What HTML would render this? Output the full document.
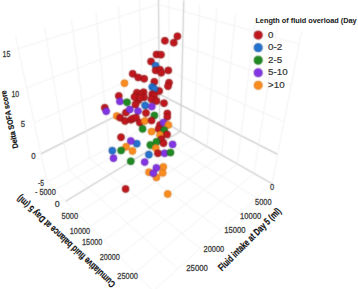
<!DOCTYPE html>
<html><head><meta charset="utf-8"><style>
html,body{margin:0;padding:0;background:#fff;}
svg{display:block;font-family:"Liberation Sans",sans-serif;}
</style></head><body>
<svg width="358" height="289" viewBox="0 0 358 289">
<defs><filter id="sf" color-interpolation-filters="sRGB" x="0" y="0" width="358" height="289" filterUnits="userSpaceOnUse"><feConvolveMatrix order="3" kernelMatrix="1 4 1 4 16 4 1 4 1" divisor="36" edgeMode="duplicate"/></filter></defs>
<g filter="url(#sf)">
<rect width="358" height="289" fill="#fff"/>
<line x1="159.6" y1="119.4" x2="47.0" y2="182.1" stroke="#efefef" stroke-width="0.8"/>
<line x1="159.4" y1="94.1" x2="40.9" y2="153.9" stroke="#cdcdcd" stroke-width="1.2"/>
<line x1="159.1" y1="66.8" x2="34.2" y2="122.7" stroke="#efefef" stroke-width="0.8"/>
<line x1="158.8" y1="36.9" x2="26.7" y2="87.8" stroke="#efefef" stroke-width="0.8"/>
<line x1="158.5" y1="4.3" x2="18.3" y2="48.7" stroke="#efefef" stroke-width="0.8"/>
<line x1="159.6" y1="119.4" x2="158.4" y2="-6.1" stroke="#cdcdcd" stroke-width="1.2"/>
<line x1="143.8" y1="128.1" x2="139.3" y2="-0.5" stroke="#efefef" stroke-width="0.8"/>
<line x1="127.0" y1="137.5" x2="118.5" y2="5.7" stroke="#efefef" stroke-width="0.8"/>
<line x1="109.0" y1="147.6" x2="96.0" y2="12.3" stroke="#efefef" stroke-width="0.8"/>
<line x1="89.7" y1="158.3" x2="71.4" y2="19.6" stroke="#efefef" stroke-width="0.8"/>
<line x1="68.9" y1="169.9" x2="44.5" y2="27.5" stroke="#efefef" stroke-width="0.8"/>
<line x1="47.0" y1="182.1" x2="15.6" y2="36.1" stroke="#efefef" stroke-width="0.8"/>
<line x1="159.6" y1="119.4" x2="272.0" y2="183.7" stroke="#efefef" stroke-width="0.8"/>
<line x1="159.4" y1="94.1" x2="277.7" y2="154.4" stroke="#cdcdcd" stroke-width="1.2"/>
<line x1="159.1" y1="66.8" x2="284.0" y2="121.8" stroke="#efefef" stroke-width="0.8"/>
<line x1="158.8" y1="36.9" x2="291.1" y2="85.3" stroke="#efefef" stroke-width="0.8"/>
<line x1="158.5" y1="4.3" x2="299.2" y2="44.1" stroke="#efefef" stroke-width="0.8"/>
<line x1="168.3" y1="124.4" x2="169.0" y2="-3.4" stroke="#efefef" stroke-width="0.8"/>
<line x1="180.5" y1="131.3" x2="183.8" y2="0.4" stroke="#cdcdcd" stroke-width="1.2"/>
<line x1="193.4" y1="138.7" x2="199.7" y2="4.5" stroke="#efefef" stroke-width="0.8"/>
<line x1="207.1" y1="146.6" x2="216.9" y2="8.9" stroke="#efefef" stroke-width="0.8"/>
<line x1="221.7" y1="154.9" x2="235.5" y2="13.7" stroke="#efefef" stroke-width="0.8"/>
<line x1="237.3" y1="163.9" x2="255.7" y2="18.9" stroke="#efefef" stroke-width="0.8"/>
<line x1="254.0" y1="173.5" x2="277.7" y2="24.5" stroke="#efefef" stroke-width="0.8"/>
<line x1="272.0" y1="183.7" x2="301.8" y2="30.7" stroke="#efefef" stroke-width="0.8"/>
<line x1="159.6" y1="119.4" x2="272.0" y2="183.7" stroke="#cdcdcd" stroke-width="1.2"/>
<line x1="143.8" y1="128.1" x2="256.4" y2="197.9" stroke="#efefef" stroke-width="0.8"/>
<line x1="127.0" y1="137.5" x2="239.3" y2="213.3" stroke="#efefef" stroke-width="0.8"/>
<line x1="109.0" y1="147.6" x2="220.7" y2="230.1" stroke="#efefef" stroke-width="0.8"/>
<line x1="89.7" y1="158.3" x2="200.3" y2="248.5" stroke="#efefef" stroke-width="0.8"/>
<line x1="68.9" y1="169.9" x2="177.8" y2="268.9" stroke="#efefef" stroke-width="0.8"/>
<line x1="47.0" y1="182.1" x2="153.4" y2="290.9" stroke="#efefef" stroke-width="0.8"/>
<line x1="168.3" y1="124.4" x2="54.8" y2="190.1" stroke="#efefef" stroke-width="0.8"/>
<line x1="180.5" y1="131.3" x2="65.7" y2="201.2" stroke="#cdcdcd" stroke-width="1.2"/>
<line x1="193.4" y1="138.7" x2="77.5" y2="213.3" stroke="#efefef" stroke-width="0.8"/>
<line x1="207.1" y1="146.6" x2="90.2" y2="226.3" stroke="#efefef" stroke-width="0.8"/>
<line x1="221.7" y1="154.9" x2="104.0" y2="240.4" stroke="#efefef" stroke-width="0.8"/>
<line x1="237.3" y1="163.9" x2="119.0" y2="255.7" stroke="#efefef" stroke-width="0.8"/>
<line x1="254.0" y1="173.5" x2="135.4" y2="272.5" stroke="#efefef" stroke-width="0.8"/>
<line x1="272.0" y1="183.7" x2="153.4" y2="290.9" stroke="#efefef" stroke-width="0.8"/>
<circle cx="164.9" cy="40.8" r="3.45" fill="#c2161e" stroke="#8c1414" stroke-width="0.8"/>
<circle cx="173.8" cy="42.7" r="3.45" fill="#c2161e" stroke="#8c1414" stroke-width="0.8"/>
<circle cx="177.4" cy="36.3" r="3.45" fill="#c2161e" stroke="#8c1414" stroke-width="0.8"/>
<circle cx="156.5" cy="54.5" r="3.45" fill="#c2161e" stroke="#8c1414" stroke-width="0.8"/>
<circle cx="161" cy="54.7" r="3.45" fill="#c2161e" stroke="#8c1414" stroke-width="0.8"/>
<circle cx="151" cy="61.5" r="3.45" fill="#c2161e" stroke="#8c1414" stroke-width="0.8"/>
<circle cx="155.6" cy="65.8" r="3.45" fill="#2372cf" stroke="#1a55a0" stroke-width="0.8"/>
<circle cx="155.7" cy="70.4" r="3.45" fill="#c2161e" stroke="#8c1414" stroke-width="0.8"/>
<circle cx="160" cy="69.7" r="3.45" fill="#c2161e" stroke="#8c1414" stroke-width="0.8"/>
<circle cx="161.2" cy="72.8" r="3.45" fill="#c2161e" stroke="#8c1414" stroke-width="0.8"/>
<circle cx="168.3" cy="70.4" r="3.45" fill="#c2161e" stroke="#8c1414" stroke-width="0.8"/>
<circle cx="132.7" cy="73.8" r="3.45" fill="#c2161e" stroke="#8c1414" stroke-width="0.8"/>
<circle cx="138.2" cy="77.5" r="3.45" fill="#c2161e" stroke="#8c1414" stroke-width="0.8"/>
<circle cx="144.2" cy="78.8" r="3.45" fill="#c2161e" stroke="#8c1414" stroke-width="0.8"/>
<circle cx="124.5" cy="83.2" r="3.45" fill="#fb8c1e" stroke="#d87414" stroke-width="0.8"/>
<circle cx="154.3" cy="81.8" r="3.45" fill="#c2161e" stroke="#8c1414" stroke-width="0.8"/>
<circle cx="169" cy="82.7" r="3.45" fill="#c2161e" stroke="#8c1414" stroke-width="0.8"/>
<circle cx="168" cy="86.2" r="3.45" fill="#c2161e" stroke="#8c1414" stroke-width="0.8"/>
<circle cx="152.2" cy="87" r="3.45" fill="#2372cf" stroke="#1a55a0" stroke-width="0.8"/>
<circle cx="159.2" cy="91" r="3.45" fill="#c2161e" stroke="#8c1414" stroke-width="0.8"/>
<circle cx="154.3" cy="88.8" r="3.45" fill="#2372cf" stroke="#1a55a0" stroke-width="0.8"/>
<circle cx="136.9" cy="92.7" r="3.45" fill="#c2161e" stroke="#8c1414" stroke-width="0.8"/>
<circle cx="143.6" cy="92.2" r="3.45" fill="#c2161e" stroke="#8c1414" stroke-width="0.8"/>
<circle cx="152.2" cy="94.2" r="3.45" fill="#c2161e" stroke="#8c1414" stroke-width="0.8"/>
<circle cx="141" cy="94.2" r="3.45" fill="#c2161e" stroke="#8c1414" stroke-width="0.8"/>
<circle cx="135.2" cy="96.7" r="3.45" fill="#c2161e" stroke="#8c1414" stroke-width="0.8"/>
<circle cx="144.0" cy="97.2" r="3.45" fill="#c2161e" stroke="#8c1414" stroke-width="0.8"/>
<circle cx="138.5" cy="100" r="3.45" fill="#c2161e" stroke="#8c1414" stroke-width="0.8"/>
<circle cx="154.0" cy="95.5" r="3.45" fill="#c2161e" stroke="#8c1414" stroke-width="0.8"/>
<circle cx="134.5" cy="97" r="3.45" fill="#c2161e" stroke="#8c1414" stroke-width="0.8"/>
<circle cx="140.2" cy="97.7" r="3.45" fill="#c2161e" stroke="#8c1414" stroke-width="0.8"/>
<circle cx="151.5" cy="99.2" r="3.45" fill="#c2161e" stroke="#8c1414" stroke-width="0.8"/>
<circle cx="156.4" cy="101" r="3.45" fill="#c2161e" stroke="#8c1414" stroke-width="0.8"/>
<circle cx="164" cy="103.2" r="3.45" fill="#c2161e" stroke="#8c1414" stroke-width="0.8"/>
<circle cx="118.8" cy="95.9" r="3.45" fill="#c2161e" stroke="#8c1414" stroke-width="0.8"/>
<circle cx="119.9" cy="101.4" r="3.45" fill="#8334e4" stroke="#6526b4" stroke-width="0.8"/>
<circle cx="127" cy="102.3" r="3.45" fill="#1f8a22" stroke="#176a19" stroke-width="0.8"/>
<circle cx="135.5" cy="104.5" r="3.45" fill="#c2161e" stroke="#8c1414" stroke-width="0.8"/>
<circle cx="145.1" cy="105.5" r="3.45" fill="#2372cf" stroke="#1a55a0" stroke-width="0.8"/>
<circle cx="151.8" cy="106.6" r="3.45" fill="#8334e4" stroke="#6526b4" stroke-width="0.8"/>
<circle cx="104.8" cy="107.8" r="3.45" fill="#c2161e" stroke="#8c1414" stroke-width="0.8"/>
<circle cx="106.2" cy="111.2" r="3.45" fill="#8334e4" stroke="#6526b4" stroke-width="0.8"/>
<circle cx="138" cy="111.1" r="3.45" fill="#8334e4" stroke="#6526b4" stroke-width="0.8"/>
<circle cx="146" cy="113" r="3.45" fill="#c2161e" stroke="#8c1414" stroke-width="0.8"/>
<circle cx="154.4" cy="115.5" r="3.45" fill="#1f8a22" stroke="#176a19" stroke-width="0.8"/>
<circle cx="167.3" cy="113.5" r="3.45" fill="#c2161e" stroke="#8c1414" stroke-width="0.8"/>
<circle cx="167.3" cy="116.8" r="3.45" fill="#c2161e" stroke="#8c1414" stroke-width="0.8"/>
<circle cx="126" cy="112.6" r="3.45" fill="#c2161e" stroke="#8c1414" stroke-width="0.8"/>
<circle cx="129.8" cy="109.5" r="3.45" fill="#8334e4" stroke="#6526b4" stroke-width="0.8"/>
<circle cx="116.8" cy="116" r="3.45" fill="#fb8c1e" stroke="#d87414" stroke-width="0.8"/>
<circle cx="120.1" cy="117.7" r="3.45" fill="#c2161e" stroke="#8c1414" stroke-width="0.8"/>
<circle cx="125.1" cy="121" r="3.45" fill="#c2161e" stroke="#8c1414" stroke-width="0.8"/>
<circle cx="131" cy="119.8" r="3.45" fill="#c2161e" stroke="#8c1414" stroke-width="0.8"/>
<circle cx="133" cy="118.4" r="3.45" fill="#c2161e" stroke="#8c1414" stroke-width="0.8"/>
<circle cx="136" cy="117.7" r="3.45" fill="#c2161e" stroke="#8c1414" stroke-width="0.8"/>
<circle cx="139.8" cy="122.6" r="3.45" fill="#c2161e" stroke="#8c1414" stroke-width="0.8"/>
<circle cx="144.8" cy="121" r="3.45" fill="#fb8c1e" stroke="#d87414" stroke-width="0.8"/>
<circle cx="151.6" cy="120.5" r="3.45" fill="#c2161e" stroke="#8c1414" stroke-width="0.8"/>
<circle cx="142.6" cy="128.9" r="3.45" fill="#1f8a22" stroke="#176a19" stroke-width="0.8"/>
<circle cx="160" cy="125" r="3.45" fill="#c2161e" stroke="#8c1414" stroke-width="0.8"/>
<circle cx="158.6" cy="128.9" r="3.45" fill="#c2161e" stroke="#8c1414" stroke-width="0.8"/>
<circle cx="163.5" cy="122.6" r="3.45" fill="#8334e4" stroke="#6526b4" stroke-width="0.8"/>
<circle cx="168.4" cy="125" r="3.45" fill="#fb8c1e" stroke="#d87414" stroke-width="0.8"/>
<circle cx="151.6" cy="131.6" r="3.45" fill="#fb8c1e" stroke="#d87414" stroke-width="0.8"/>
<circle cx="164.2" cy="130.3" r="3.45" fill="#1f8a22" stroke="#176a19" stroke-width="0.8"/>
<circle cx="160" cy="134.9" r="3.45" fill="#fb8c1e" stroke="#d87414" stroke-width="0.8"/>
<circle cx="167" cy="134.4" r="3.45" fill="#c2161e" stroke="#8c1414" stroke-width="0.8"/>
<circle cx="121" cy="137.2" r="3.45" fill="#c2161e" stroke="#8c1414" stroke-width="0.8"/>
<circle cx="161.4" cy="139.3" r="3.45" fill="#c2161e" stroke="#8c1414" stroke-width="0.8"/>
<circle cx="156.5" cy="141.8" r="3.45" fill="#1f8a22" stroke="#176a19" stroke-width="0.8"/>
<circle cx="150.3" cy="145" r="3.45" fill="#1f8a22" stroke="#176a19" stroke-width="0.8"/>
<circle cx="163.5" cy="143.2" r="3.45" fill="#c2161e" stroke="#8c1414" stroke-width="0.8"/>
<circle cx="172.6" cy="144.4" r="3.45" fill="#8334e4" stroke="#6526b4" stroke-width="0.8"/>
<circle cx="155.8" cy="148" r="3.45" fill="#fb8c1e" stroke="#d87414" stroke-width="0.8"/>
<circle cx="136.8" cy="143.7" r="3.45" fill="#2372cf" stroke="#1a55a0" stroke-width="0.8"/>
<circle cx="130.8" cy="141" r="3.45" fill="#8334e4" stroke="#6526b4" stroke-width="0.8"/>
<circle cx="126.1" cy="146.8" r="3.45" fill="#fb8c1e" stroke="#d87414" stroke-width="0.8"/>
<circle cx="132.5" cy="151" r="3.45" fill="#fb8c1e" stroke="#d87414" stroke-width="0.8"/>
<circle cx="121.1" cy="150.5" r="3.45" fill="#1f8a22" stroke="#176a19" stroke-width="0.8"/>
<circle cx="112.3" cy="150.7" r="3.45" fill="#2372cf" stroke="#1a55a0" stroke-width="0.8"/>
<circle cx="113.5" cy="158.2" r="3.45" fill="#8334e4" stroke="#6526b4" stroke-width="0.8"/>
<circle cx="130.8" cy="161.3" r="3.45" fill="#1f8a22" stroke="#176a19" stroke-width="0.8"/>
<circle cx="157.9" cy="153.3" r="3.45" fill="#c2161e" stroke="#8c1414" stroke-width="0.8"/>
<circle cx="164.6" cy="153.3" r="3.45" fill="#8334e4" stroke="#6526b4" stroke-width="0.8"/>
<circle cx="170.5" cy="152.6" r="3.45" fill="#1f8a22" stroke="#176a19" stroke-width="0.8"/>
<circle cx="148.9" cy="154.7" r="3.45" fill="#2372cf" stroke="#1a55a0" stroke-width="0.8"/>
<circle cx="144.7" cy="162.1" r="3.45" fill="#8334e4" stroke="#6526b4" stroke-width="0.8"/>
<circle cx="163.3" cy="167" r="3.45" fill="#fb8c1e" stroke="#d87414" stroke-width="0.8"/>
<circle cx="156.4" cy="167.9" r="3.45" fill="#8334e4" stroke="#6526b4" stroke-width="0.8"/>
<circle cx="149" cy="172.2" r="3.45" fill="#fb8c1e" stroke="#d87414" stroke-width="0.8"/>
<circle cx="162.7" cy="172.9" r="3.45" fill="#fb8c1e" stroke="#d87414" stroke-width="0.8"/>
<circle cx="156.4" cy="177.4" r="3.45" fill="#fb8c1e" stroke="#d87414" stroke-width="0.8"/>
<circle cx="153.3" cy="173.3" r="3.45" fill="#8334e4" stroke="#6526b4" stroke-width="0.8"/>
<circle cx="125.6" cy="189" r="3.45" fill="#c2161e" stroke="#8c1414" stroke-width="0.8"/>
<circle cx="167.7" cy="194" r="3.45" fill="#fb8c1e" stroke="#d87414" stroke-width="0.8"/>
<circle cx="258.2" cy="35.1" r="4.05" fill="#c2161e" stroke="#8c1414" stroke-width="0.8"/>
<circle cx="258.2" cy="47.650000000000006" r="4.05" fill="#2372cf" stroke="#1a55a0" stroke-width="0.8"/>
<circle cx="258.2" cy="60.2" r="4.05" fill="#1f8a22" stroke="#176a19" stroke-width="0.8"/>
<circle cx="258.2" cy="72.75" r="4.05" fill="#8334e4" stroke="#6526b4" stroke-width="0.8"/>
<circle cx="258.2" cy="85.30000000000001" r="4.05" fill="#fb8c1e" stroke="#d87414" stroke-width="0.8"/>
</g>
<text x="2.5" y="57.4" font-size="8.8" font-weight="normal" fill="#404040" text-anchor="start" textLength="7.8" lengthAdjust="spacingAndGlyphs" stroke="#444" stroke-width="0.3">15</text>
<text x="11.5" y="96.5" font-size="8.8" font-weight="normal" fill="#404040" text-anchor="start" textLength="7.7" lengthAdjust="spacingAndGlyphs" stroke="#444" stroke-width="0.3">10</text>
<text x="20.8" y="127.3" font-size="8.8" font-weight="normal" fill="#404040" text-anchor="start" textLength="4.3" lengthAdjust="spacingAndGlyphs" stroke="#444" stroke-width="0.3">5</text>
<text x="31.2" y="158.5" font-size="8.8" font-weight="normal" fill="#404040" text-anchor="start" textLength="4.4" lengthAdjust="spacingAndGlyphs" stroke="#444" stroke-width="0.3">0</text>
<text x="38.1" y="186.4" font-size="8.8" font-weight="normal" fill="#404040" text-anchor="start" textLength="5.9" lengthAdjust="spacingAndGlyphs" stroke="#444" stroke-width="0.3">-5</text>
<text x="34.9" y="195.3" font-size="8.8" font-weight="normal" fill="#404040" text-anchor="start" textLength="20.9" lengthAdjust="spacingAndGlyphs" stroke="#444" stroke-width="0.3">- 5000</text>
<text x="54.7" y="207.2" font-size="8.8" font-weight="normal" fill="#404040" text-anchor="start" textLength="4.9" lengthAdjust="spacingAndGlyphs" stroke="#444" stroke-width="0.3">0</text>
<text x="61.5" y="218.9" font-size="8.8" font-weight="normal" fill="#404040" text-anchor="start" textLength="16.6" lengthAdjust="spacingAndGlyphs" stroke="#444" stroke-width="0.3">5000</text>
<text x="69.8" y="233.6" font-size="8.8" font-weight="normal" fill="#404040" text-anchor="start" textLength="20.2" lengthAdjust="spacingAndGlyphs" stroke="#444" stroke-width="0.3">10000</text>
<text x="82.1" y="245.3" font-size="8.8" font-weight="normal" fill="#404040" text-anchor="start" textLength="20.1" lengthAdjust="spacingAndGlyphs" stroke="#444" stroke-width="0.3">15000</text>
<text x="99.7" y="259.9" font-size="8.8" font-weight="normal" fill="#404040" text-anchor="start" textLength="20.1" lengthAdjust="spacingAndGlyphs" stroke="#444" stroke-width="0.3">20000</text>
<text x="117.3" y="278.7" font-size="8.8" font-weight="normal" fill="#404040" text-anchor="start" textLength="20.6" lengthAdjust="spacingAndGlyphs" stroke="#444" stroke-width="0.3">25000</text>
<text x="270.1" y="190.3" font-size="8.8" font-weight="normal" fill="#404040" text-anchor="start" textLength="4.2" lengthAdjust="spacingAndGlyphs" stroke="#444" stroke-width="0.3">0</text>
<text x="255.1" y="204.5" font-size="8.8" font-weight="normal" fill="#404040" text-anchor="start" textLength="16.4" lengthAdjust="spacingAndGlyphs" stroke="#444" stroke-width="0.3">5000</text>
<text x="240" y="219.3" font-size="8.8" font-weight="normal" fill="#404040" text-anchor="start" textLength="21.1" lengthAdjust="spacingAndGlyphs" stroke="#444" stroke-width="0.3">10000</text>
<text x="224.2" y="233.0" font-size="8.8" font-weight="normal" fill="#404040" text-anchor="start" textLength="21.3" lengthAdjust="spacingAndGlyphs" stroke="#444" stroke-width="0.3">15000</text>
<text x="203.5" y="252.0" font-size="8.8" font-weight="normal" fill="#404040" text-anchor="start" textLength="20.7" lengthAdjust="spacingAndGlyphs" stroke="#444" stroke-width="0.3">20000</text>
<text x="186.3" y="271.0" font-size="8.8" font-weight="normal" fill="#404040" text-anchor="start" textLength="21.6" lengthAdjust="spacingAndGlyphs" stroke="#444" stroke-width="0.3">25000</text>
<text x="268.0" y="37.800000000000004" font-size="9.8" font-weight="normal" fill="#333" text-anchor="start" stroke="#333" stroke-width="0.2">0</text>
<text x="268.0" y="50.35000000000001" font-size="9.8" font-weight="normal" fill="#333" text-anchor="start" stroke="#333" stroke-width="0.2">0-2</text>
<text x="268.0" y="62.900000000000006" font-size="9.8" font-weight="normal" fill="#333" text-anchor="start" stroke="#333" stroke-width="0.2">2-5</text>
<text x="268.0" y="75.45" font-size="9.8" font-weight="normal" fill="#333" text-anchor="start" stroke="#333" stroke-width="0.2">5-10</text>
<text x="268.0" y="88.00000000000001" font-size="9.8" font-weight="normal" fill="#333" text-anchor="start" stroke="#333" stroke-width="0.2">&gt;10</text>
<text x="255.4" y="23.4" font-size="8.1" font-weight="bold" fill="#1a1a1a" text-anchor="start" textLength="101.2" lengthAdjust="spacingAndGlyphs" stroke="#1a1a1a" stroke-width="0.05">Length of fluid overload (Day</text>
<text transform="translate(18.3,147.7) rotate(-102.2)" font-size="7.9" font-weight="bold" fill="#111" stroke="#111" stroke-width="0.2" textLength="59" lengthAdjust="spacingAndGlyphs">Delta SOFA score</text>
<text transform="translate(116,283.5) rotate(-137)" font-size="9.8" font-weight="bold" fill="#111" stroke="#111" stroke-width="0.2" textLength="130.5" lengthAdjust="spacingAndGlyphs">Cumulative fluid balance at Day 5 (ml)</text>
<text transform="translate(221.9,271.5) rotate(-45)" font-size="9.9" font-weight="bold" fill="#111" stroke="#111" stroke-width="0.2" textLength="84.5" lengthAdjust="spacingAndGlyphs">Fluid intake at Day 5 (ml)</text>
</svg>
</body></html>
